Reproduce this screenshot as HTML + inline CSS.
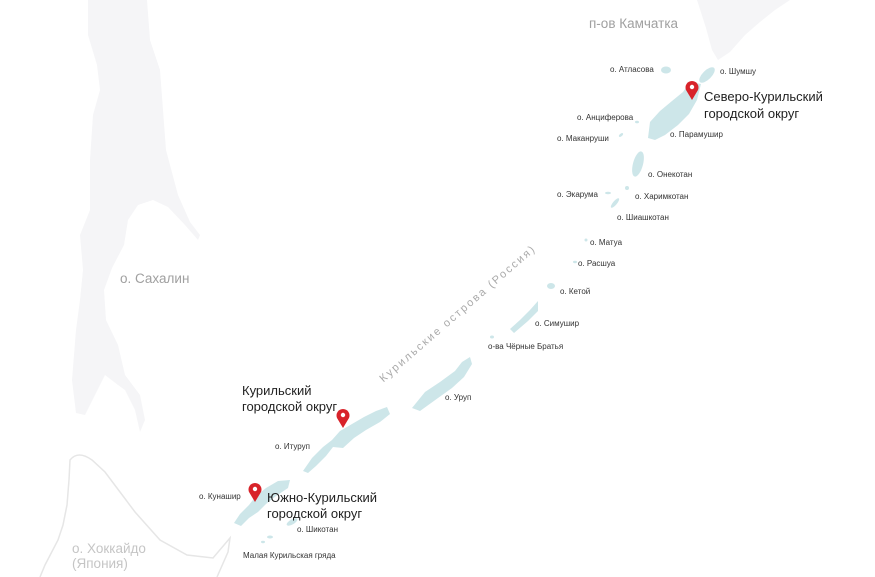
<!DOCTYPE html>
<html><head><meta charset="utf-8"><style>
html,body{margin:0;padding:0;background:#fff;}
svg{display:block;font-family:"Liberation Sans",sans-serif;}
.s{font-size:8px;fill:#333;}
.b{font-size:13px;fill:#222;}
.g{font-size:13.5px;fill:#a0a0a0;}
</style></head><body>
<svg width="875" height="577" viewBox="0 0 875 577" xmlns="http://www.w3.org/2000/svg">
<path fill="#f5f5f7" d="M88,0 L147,0 L150,40 L160,70 L163,110 L166,150 L178,195 L190,222 L200,235 L198,240 L185,225 L168,207 L153,200 L138,205 L128,220 L124,245 L112,268 L104,290 L106,320 L118,345 L125,375 L140,395 L145,420 L140,432 L135,410 L125,390 L118,385 L105,375 L95,395 L85,415 L76,413 L72,380 L76,330 L80,300 L83,270 L80,235 L90,210 L90,160 L93,115 L100,90 L97,65 L88,35 Z"/>
<path fill="#f5f5f7" d="M697,0 L790,0 L775,10 L760,22 L745,35 L730,52 L718,60 L712,50 L706,28 Z"/>
<path fill="none" stroke="#e6e6e6" stroke-width="1.5" d="M40,577 L45,565 L58,540 L63,525 L67,505 L69,480 L70,460 Q78,450 92,460 L105,472 L120,492 L135,512 L160,540 L187,555 L213,558 L230,538 L228,552 L217,577"/>
<g fill="#cde6e9">
<path d="M412,408 L425,392 L440,382 L455,371 L462,362 L470,357 L472,364 L464,377 L452,388 L438,398 L420,411 Z"/>
<path d="M510,329 L520,320 L530,310 L538,301 L538,311 L528,321 L514,333 Z"/>
<ellipse cx="551" cy="286" rx="4" ry="3"/>
<ellipse cx="492" cy="337" rx="2" ry="1.5"/>
<path d="M303,471 L312,458 L323,447 L332,440 L340,431 L352,424 L364,417 L376,411 L387,407 L390,414 L380,422 L366,430 L354,438 L343,448 L333,447 L326,456 L316,466 L308,473 Z"/>
<path d="M234,523 L240,514 L249,505 L256,496 L266,488 L278,481 L290,480 L288,488 L276,496 L266,504 L258,512 L249,518 L241,526 Z"/>
<ellipse cx="292" cy="522" rx="6" ry="2.5" transform="rotate(-30 292 522)"/>
<ellipse cx="270" cy="537" rx="3" ry="1.5"/>
<ellipse cx="263" cy="542" rx="2" ry="1.2"/>
<path d="M648,138 L650,122 L660,111 L672,101 L683,92 L690,82 L701,84 L697,100 L689,114 L678,125 L665,135 L655,140 Z"/>
<ellipse cx="707" cy="75" rx="10" ry="4.5" transform="rotate(-45 707 75)"/>
<ellipse cx="666" cy="70" rx="5" ry="3.5"/>
<ellipse cx="638" cy="164" rx="5" ry="13" transform="rotate(15 638 164)"/>
<ellipse cx="627" cy="188" rx="2" ry="2"/>
<ellipse cx="608" cy="193" rx="3" ry="1.3"/>
<ellipse cx="615" cy="203" rx="2" ry="6" transform="rotate(40 615 203)"/>
<ellipse cx="637" cy="122" rx="2" ry="1.3"/>
<ellipse cx="621" cy="135" rx="2.5" ry="1.3" transform="rotate(-40 621 135)"/>
<ellipse cx="586" cy="240" rx="1.5" ry="1.5"/>
<ellipse cx="575" cy="262" rx="2" ry="1.2"/>
</g>
<text x="460" y="316" font-size="11" fill="#aaa" letter-spacing="2" text-anchor="middle" transform="rotate(-41 460 316)">Курильские острова (Россия)</text>
<g fill="#d8232a">
<path d="M343,428 L337,418 A6.5,6.5 0 1 1 349,418 Z"/>
<path d="M692,100 L686,90 A6.5,6.5 0 1 1 698,90 Z"/>
<path d="M255,502 L249,492 A6.5,6.5 0 1 1 261,492 Z"/>
</g>
<g fill="#fff"><circle cx="343" cy="415" r="2.2"/><circle cx="692" cy="87" r="2.2"/><circle cx="255" cy="489" r="2.2"/></g>
<text class="g" x="589" y="28">п-ов Камчатка</text>
<text class="g" x="120" y="283">о. Сахалин</text>
<text class="g" x="72" y="553" style="fill:#c5c5c5">о. Хоккайдо</text>
<text class="g" x="72" y="568" style="fill:#c5c5c5">(Япония)</text>
<text class="s" x="610" y="72">о. Атласова</text>
<text class="s" x="720" y="74">о. Шумшу</text>
<text class="b" x="704" y="101">Северо-Курильский</text>
<text class="b" x="704" y="118">городской округ</text>
<text class="s" x="577" y="120">о. Анциферова</text>
<text class="s" x="557" y="141">о. Маканруши</text>
<text class="s" x="670" y="137">о. Парамушир</text>
<text class="s" x="648" y="177">о. Онекотан</text>
<text class="s" x="557" y="197">о. Экарума</text>
<text class="s" x="635" y="199">о. Харимкотан</text>
<text class="s" x="617" y="220">о. Шиашкотан</text>
<text class="s" x="590" y="245">о. Матуа</text>
<text class="s" x="578" y="266">о. Расшуа</text>
<text class="s" x="560" y="294">о. Кетой</text>
<text class="s" x="535" y="326">о. Симушир</text>
<text class="s" x="488" y="349">о-ва Чёрные Братья</text>
<text class="s" x="445" y="400">о. Уруп</text>
<text class="b" x="242" y="395">Курильский</text>
<text class="b" x="242" y="411">городской округ</text>
<text class="s" x="275" y="449">о. Итуруп</text>
<text class="s" x="199" y="499">о. Кунашир</text>
<text class="b" x="267" y="502">Южно-Курильский</text>
<text class="b" x="267" y="518">городской округ</text>
<text class="s" x="297" y="532">о. Шикотан</text>
<text class="s" x="243" y="558">Малая Курильская гряда</text>
</svg>
</body></html>
